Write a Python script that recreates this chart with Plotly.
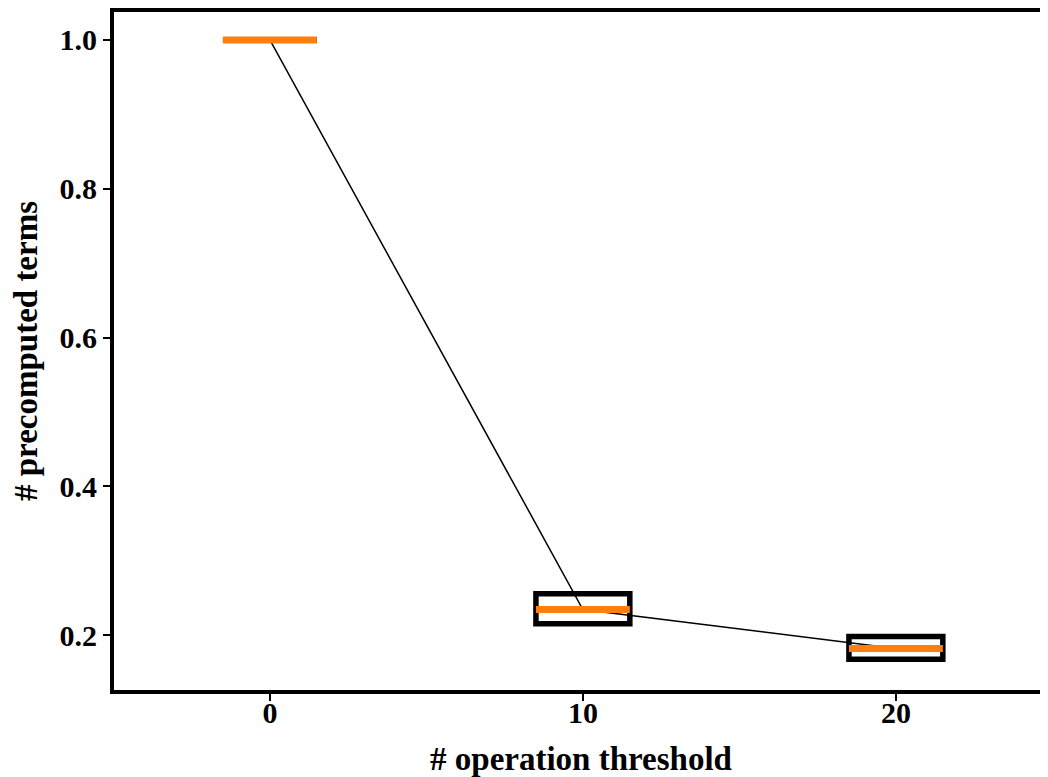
import plotly.graph_objects as go

# ---- data ----
thresholds = [0, 10, 20]
q1_values = [1.0, 0.2154, 0.1675]
median_values = [1.0, 0.2345, 0.1820]
q3_values = [1.0, 0.2556, 0.1983]
x_tick_labels = ["0", "10", "20"]
y_tick_values = [0.2, 0.4, 0.6, 0.8, 1.0]
y_tick_labels = ["0.2", "0.4", "0.6", "0.8", "1.0"]

# ---- styles ----
BOX_WIDTH = 3
FONT = "Liberation Serif"
ORANGE = "#ff7f0e"

fig = go.Figure()

# connecting line through the medians
fig.add_trace(go.Scatter(
    x=thresholds, y=median_values, mode="lines",
    line=dict(color="black", width=1.5), showlegend=False, hoverinfo="skip"))

# boxes
fig.add_trace(go.Box(
    x=thresholds, q1=q1_values, median=median_values, q3=q3_values,
    lowerfence=q1_values, upperfence=q3_values,
    width=BOX_WIDTH, boxpoints=False, whiskerwidth=0,
    line=dict(color="black", width=5.5), fillcolor="rgba(0,0,0,0)",
    showlegend=False))

# orange median bars
mx, my = [], []
for p, m in zip(thresholds, median_values):
    mx += [p - BOX_WIDTH / 2, p + BOX_WIDTH / 2, None]
    my += [m, m, None]
fig.add_trace(go.Scatter(
    x=mx, y=my, mode="lines", line=dict(color=ORANGE, width=7),
    showlegend=False, hoverinfo="skip"))

fig.update_layout(
    width=1040, height=769,
    margin=dict(l=106, r=0, t=2, b=87),
    paper_bgcolor="white", plot_bgcolor="white",
    font=dict(family=FONT, color="black"),
)
fig.update_xaxes(
    range=[-4.98, 24.86], tickmode="array", tickvals=thresholds, ticktext=x_tick_labels,
    showgrid=False, zeroline=False, showline=True, linecolor="black", linewidth=4,
    mirror=True, ticks="outside", ticklen=7, tickwidth=1.5, tickcolor="black",
    ticklabelstandoff=-14,
    tickfont=dict(family=FONT, size=30, weight="bold"),
    title=dict(text="# operation threshold", font=dict(family=FONT, size=33, weight="bold"), standoff=21),
)
fig.update_yaxes(
    range=[0.1263, 1.0375], tickmode="array", tickvals=y_tick_values, ticktext=y_tick_labels,
    showgrid=False, zeroline=False, showline=True, linecolor="black", linewidth=4,
    mirror=False, ticks="outside", ticklen=7, tickwidth=1.5, tickcolor="black",
    tickfont=dict(family=FONT, size=30, weight="bold"),
    title=dict(text="# precomputed terms", font=dict(family=FONT, size=33, weight="bold"), standoff=14),
)

fig.write_html("out.html")
